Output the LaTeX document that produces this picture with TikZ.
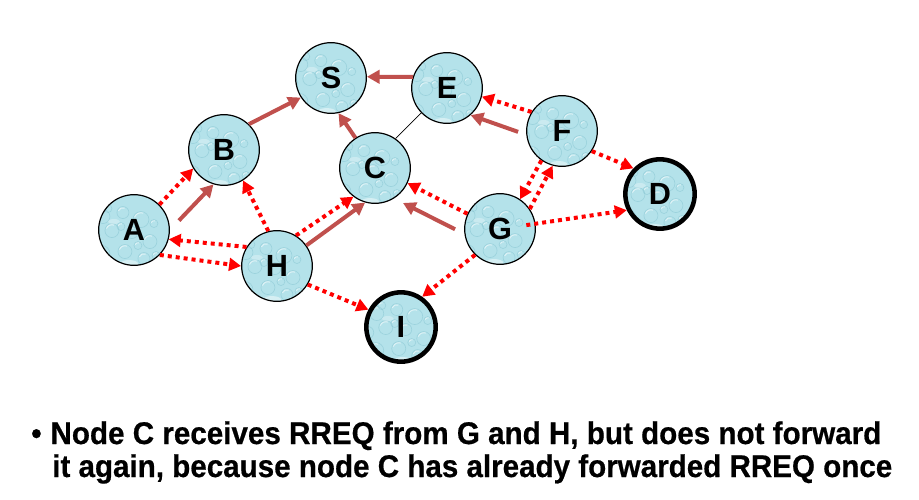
\documentclass[tikz,border=0pt]{standalone}
\usepackage{fontspec}
\setmainfont{Liberation Sans}
\newfontfamily\capfont{Liberation Sans Bold}[FakeBold=0.6]
\usetikzlibrary{arrows.meta}
\definecolor{nodefill}{RGB}{180,226,234}
\definecolor{bubble}{RGB}{128,192,206}
\definecolor{solidred}{RGB}{192,80,77}
\definecolor{dotred}{RGB}{255,0,0}

\begin{document}
\begin{tikzpicture}[x=0.75pt,y=-0.75pt,
  site/.style={circle, minimum size=53pt, inner sep=0pt, draw=black,
    line width=0.9pt, fill=nodefill,
    font=\fontsize{23}{23}\selectfont\bfseries,
    path picture={
      % water-drop texture of the disc
      \begin{scope}[shift={(path picture bounding box.center)}]
        \foreach \bx/\by/\br in {-20/-24/7, 0/-28/6, 18/-21/8, -29/-5/6,
            -11/-10/7, 9/-8/6, 27/1/7, -21/13/8, 2/11/7, 21/18/6,
            -7/28/6, 13/31/5, -31/20/4, 31/-17/4, -15/-32/4, 33/15/4,
            -2/-14/4, 15/5/4}{
          \draw[bubble, opacity=0.45, line width=0.5pt] (\bx,\by) circle[radius=\br];
          \draw[white, opacity=0.6, line width=0.7pt]
            (\bx,\by) ++(200:\br-1.2) arc[start angle=200, end angle=290, radius=\br-1.2];
        }
        \fill[white, opacity=0.45] (6,23) ellipse[x radius=9, y radius=3.5];
        \fill[white, opacity=0.3] (-9,-19) ellipse[x radius=6, y radius=2.5];
      \end{scope}
    }},
  dest/.style={site, minimum size=52pt, line width=3.4pt},
  solidarrow/.style={solidred, line width=3pt,
    -{Triangle[length=9.5pt,width=10pt]}},
  dotarrow/.style={dotred, line width=3pt, dash pattern=on 3pt off 3pt,
    -{Triangle[length=9pt,width=9.5pt]}},
  thinlink/.style={black, line width=0.6pt}
]
\useasboundingbox (0,0) rectangle (919,499);

% hosts of the network
\node[site] (S) at (331,78)  {S};
\node[site] (B) at (224,150) {B};
\node[site] (C) at (375,168) {C};
\node[site] (A) at (134,230) {A};
\node[site] (H) at (277,266) {H};
\node[site] (E) at (447,88)  {E};
\node[site] (F) at (562,131) {F};
\node[site] (G) at (500,229) {G};
\node[dest] (I) at (401,327) {I};
\node[dest] (D) at (660,194) {D};

% plain neighbour link
\draw[thinlink] (E.224) -- (C.55);

% reverse path entries (solid)
\draw[solidarrow] (E.162) -- (S.2);
\draw[solidarrow] (B.46) -- (S.213);
\draw[solidarrow] (C.123) -- (S.282);
\draw[solidarrow, shorten <=6.5pt] (F.186) -- (E.-49);
\draw[solidarrow, shorten <=9.75pt] (A.0) -- (B.253);
\draw[solidarrow] (H.35) -- (C.254);
\draw[solidarrow, shorten <=7.9pt, shorten >=7.5pt] (G.188) -- (C.-58);

% RREQ broadcasts (dotted)
\draw[dotarrow] (A.45) -- (B.211);
\draw[dotarrow] (H.104) -- (B.-58);
\draw[dotarrow] (H.148) -- (A.-15);
\draw[dotarrow] (A.-44) -- (H.180);
\draw[dotarrow] (H.58) -- (C.233);
\draw[dotarrow] (H.-31) -- (I.152);
\draw[dotarrow] (G.155) -- (C.-25);
\draw[dotarrow] (G.226) -- (I.55);
\draw[dotarrow, shorten <=-7pt] (G) -- (D.206);
\draw[dotarrow] (F.148) -- (E.-14);
\draw[dotarrow] (F.-34) -- (D.136);
\draw[dotarrow] (F.235) -- (G.56);
\draw[dotarrow] (G.34) -- (F.255);

% caption
\node[anchor=base west, inner sep=0pt] (line1) at (31,444)
  {\resizebox{637.5pt}{\height}{\fontsize{23.5}{27}\capfont
   •\hspace{0.3em}Node C receives RREQ from G and H, but does not forward}};
\node[anchor=base west, inner sep=0pt] (line2) at (52,477)
  {\resizebox{630pt}{\height}{\fontsize{23.5}{27}\capfont
   it again, because node C has already forwarded RREQ once}};
\end{tikzpicture}
\end{document}
